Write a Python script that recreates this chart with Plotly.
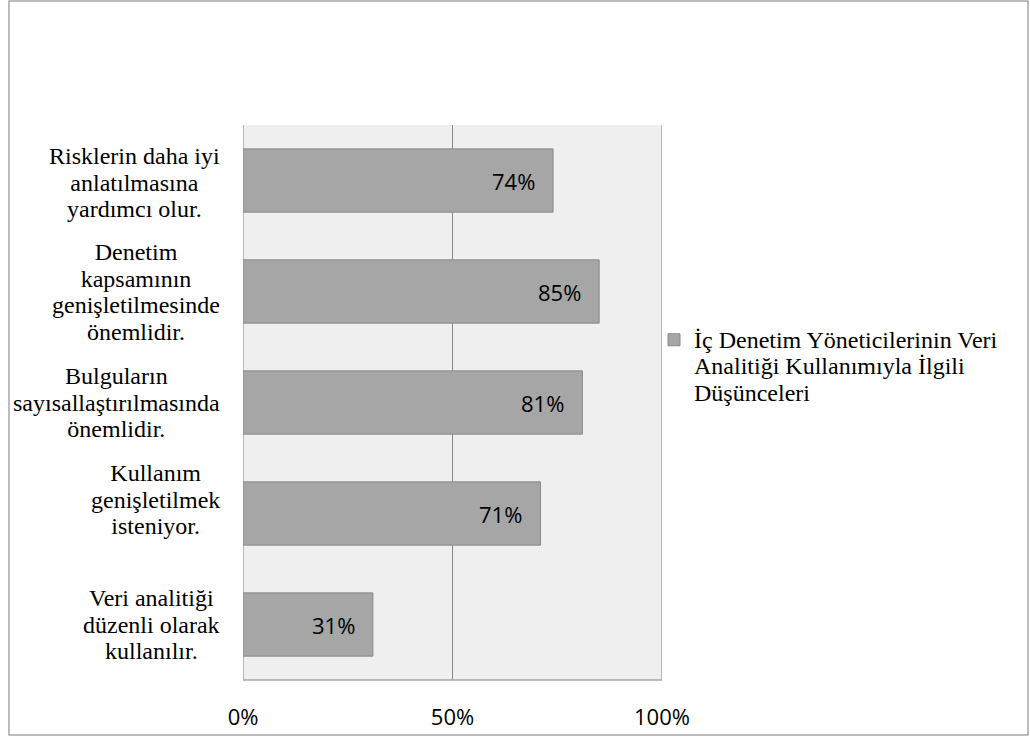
import plotly.graph_objects as go

categories = [
    ["Risklerin daha iyi", "anlatılmasına", "yardımcı olur."],
    ["Denetim", "kapsamının", "genişletilmesinde", "önemlidir."],
    ["Bulguların", "sayısallaştırılmasında", "önemlidir."],
    ["Kullanım", "genişletilmek", "isteniyor."],
    ["Veri analitiği", "düzenli olarak", "kullanılır."],
]
cat_ids = ["c1", "c2", "c3", "c4", "c5"]
values = [0.74, 0.85, 0.81, 0.71, 0.31]
value_labels = ["74%", "85%", "81%", "71%", "31%"]
label_yshift = [-2, 0, 0, 14, 0]
series_lines = ["İç Denetim Yöneticilerinin Veri", "Analitiği Kullanımıyla İlgili", "Düşünceleri"]
tick_vals = [0, 0.5, 1.0]
tick_text = ["0%", "50%", "100%"]

SERIF = "Liberation Serif, Times New Roman, DejaVu Serif, serif"
SANS = "Open Sans, sans-serif"

W, H = 1030, 738
L, R, T, B = 243, 1030 - 662, 125, 58
pw, ph = W - L - R, H - T - B
LINE_H = 26.5
BASE = LINE_H / 1.3  # plotly line height = 1.3 * base font size


def px_x(p):
    return (p - L) / pw


def px_y(p):
    return (H - B - p) / ph


def tight(lines, size=24):
    return "<br>".join(f'<span style="font-size:{size}px">{ln}</span>' for ln in lines)


fig = go.Figure()
fig.add_trace(go.Bar(
    y=cat_ids, x=values, orientation="h", width=0.57,
    marker=dict(color="#a6a6a6", line=dict(color="#8a8a8a", width=1)),
    name=tight(series_lines), showlegend=True, hoverinfo="skip",
))

annotations = []
for cid, lines, ys in zip(cat_ids, categories, label_yshift):
    annotations.append(dict(
        x=0, xref="paper", y=cid, yref="y", text=tight(lines), showarrow=False,
        xanchor="right", yanchor="middle", align="center",
        xshift=-21, yshift=ys,
        font=dict(family=SERIF, size=BASE, color="#000000"),
    ))
for cid, v, lab in zip(cat_ids, values, value_labels):
    annotations.append(dict(
        x=v, xref="x", y=cid, yref="y", text=lab, showarrow=False,
        xanchor="right", yanchor="middle", xshift=-16,
        font=dict(family=SANS, size=22, color="#000000"),
    ))

shapes = [
    dict(type="rect", xref="paper", yref="paper",
         x0=px_x(9), x1=px_x(1028), y0=px_y(735), y1=px_y(1),
         line=dict(color="#a6a6a6", width=1.5), fillcolor="rgba(0,0,0,0)", layer="below"),
    dict(type="line", xref="x", yref="paper", x0=0.5, x1=0.5, y0=0, y1=1,
         line=dict(color="#888888", width=1), layer="below"),
    dict(type="line", xref="x", yref="paper", x0=0, x1=0, y0=0, y1=1,
         line=dict(color="#a6a6a6", width=1.5), layer="below"),
    dict(type="line", xref="x", yref="paper", x0=1, x1=1, y0=0, y1=1,
         line=dict(color="#a6a6a6", width=1.5), layer="below"),
    dict(type="line", xref="x", yref="paper", x0=0, x1=1, y0=0, y1=0,
         line=dict(color="#a6a6a6", width=1.5), layer="below"),
]

fig.update_layout(
    width=W, height=H,
    margin=dict(l=L, r=R, t=T, b=B, autoexpand=False),
    paper_bgcolor="#ffffff", plot_bgcolor="#efefef",
    xaxis=dict(range=[0, 1], tickvals=tick_vals, ticktext=tick_text,
               showgrid=False, zeroline=False, showline=False, automargin=False,
               ticks="outside", ticklen=18, tickcolor="rgba(0,0,0,0)",
               tickfont=dict(family=SANS, size=22, color="#000000"),
               fixedrange=True),
    yaxis=dict(categoryorder="array", categoryarray=cat_ids[::-1],
               showticklabels=False, showgrid=False, zeroline=False, automargin=False,
               range=[-0.5, 4.5], fixedrange=True),
    legend=dict(x=px_x(654), y=px_y(320), xanchor="left", yanchor="top",
                valign="top", bgcolor="rgba(0,0,0,0)", itemwidth=30,
                font=dict(family=SERIF, size=BASE, color="#000000"),
                tracegroupgap=0),
    annotations=annotations,
    shapes=shapes,
    showlegend=True,
)

fig.write_html("out.html", config={"displayModeBar": False})
